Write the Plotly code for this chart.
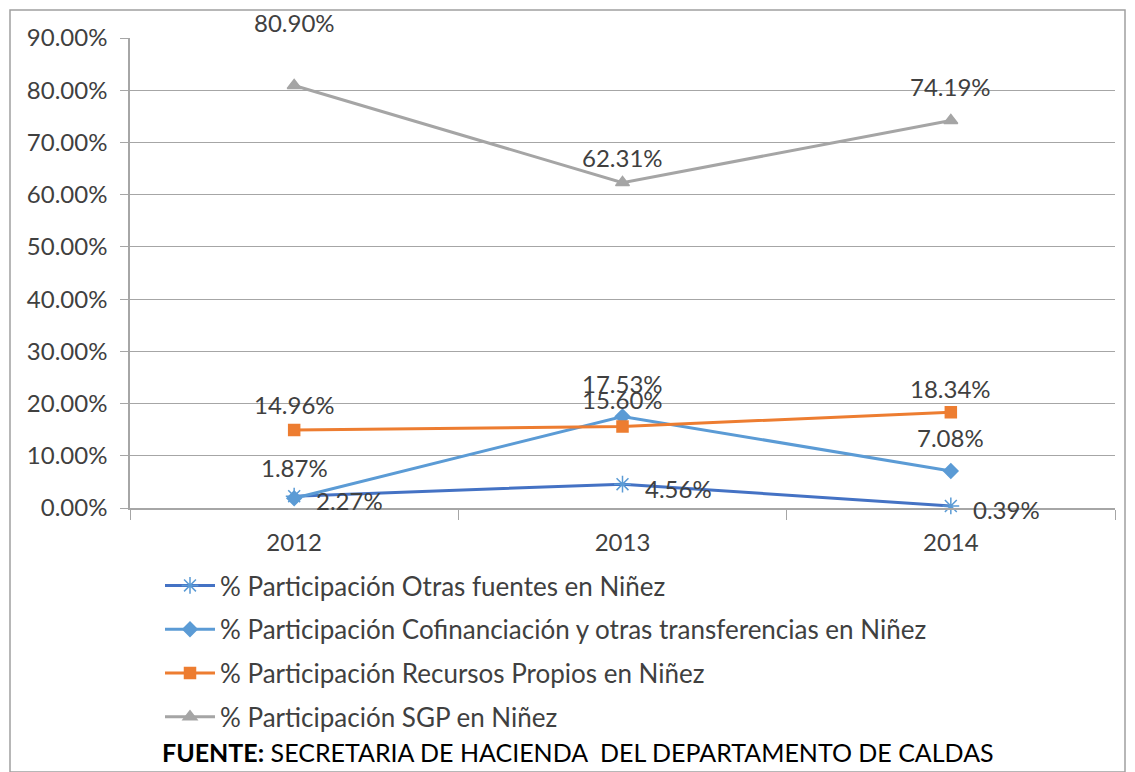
import plotly.graph_objects as go

# ── Data ──────────────────────────────────────────────────────────────────────
years = ["2012", "2013", "2014"]
otras = [2.27, 4.56, 0.39]
cofin = [1.87, 17.53, 7.08]
propios = [14.96, 15.60, 18.34]
sgp = [80.90, 62.31, 74.19]

names = [
    "% Participación Otras fuentes en Niñez",
    "% Participación Cofinanciación y otras transferencias en Niñez",
    "% Participación Recursos Propios en Niñez",
    "% Participación SGP en Niñez",
]

FONT = "Lato, 'Open Sans', sans-serif"
TXT = "#404040"
GRID = "#A6A6A6"

# line colour, marker colour, symbol, size, label placement
styles = [
    ("#4472C4", "#5B9BD5", "asterisk-open", 14, "right"),
    ("#5B9BD5", "#5B9BD5", "diamond", 11, "top"),
    ("#ED7D31", "#ED7D31", "square", 11, "top"),
    ("#A5A5A5", "#A5A5A5", "triangle-up", 12, "top"),
]
# vertical label offsets (px) as placed in the original
label_shift = [
    [-4, -4, -4],
    [31, 33, 34],
    [25, 27, 24],
    [63, 25, 34],
]

fig = go.Figure()
for i, vals in enumerate([otras, cofin, propios, sgp]):
    lc, mc, sym, sz, where = styles[i]
    fig.add_trace(go.Scatter(
        x=years, y=vals, name=names[i], legendgroup=f"g{i}",
        mode="lines+markers",
        line=dict(color=lc, width=3),
        marker=dict(symbol=sym, size=sz, color=mc, line=dict(color=mc, width=1.5)),
        cliponaxis=False,
    ))
    for j, v in enumerate(vals):
        fig.add_annotation(
            x=j, y=v, xref="x", yref="y", text=f"{v:.2f}%", showarrow=False,
            xanchor="left" if where == "right" else "center",
            yanchor="middle",
            xshift=20 if where == "right" else 0,
            yshift=label_shift[i][j],
            font=dict(size=24, color=TXT, family=FONT),
        )

# page is drawn with an 8px body margin; plot area on page: x 130..1115, y 38..508
OFF = 8
def px_x(p):
    return (p - 130) / 985

def px_y(p):
    return (508 - p) / 470

fig.add_shape(type="rect", xref="paper", yref="paper",
              x0=px_x(10), x1=px_x(1125), y0=px_y(772), y1=px_y(10),
              line=dict(color="#A0A0A0", width=1.5))

fig.add_annotation(
    text="<b>FUENTE:</b> SECRETARIA DE HACIENDA  DEL DEPARTAMENTO DE CALDAS",
    xref="paper", yref="paper", x=px_x(160), y=px_y(752),
    xanchor="left", yanchor="middle", showarrow=False,
    font=dict(size=25, color="#000000", family=FONT),
)

fig.update_layout(
    width=1135, height=772,
    paper_bgcolor="#FFFFFF", plot_bgcolor="#FFFFFF",
    font=dict(family=FONT, color=TXT, size=24),
    margin=dict(l=130 - OFF, r=1135 - 1115 + OFF, t=38 - OFF, b=772 - 508 + OFF),
    showlegend=True,
    legend=dict(x=px_x(160), y=px_y(562), xanchor="left", yanchor="top",
                font=dict(size=26, color=TXT, family=FONT),
                tracegroupgap=7, itemwidth=50, bgcolor="rgba(0,0,0,0)"),
)
fig.update_xaxes(type="category", range=[-0.5, 2.5], showgrid=False,
                 showline=True, linecolor=GRID, linewidth=1.5,
                 ticks="outside", tickson="boundaries", ticklen=10,
                 tickcolor=GRID, ticklabelstandoff=12,
                 tickfont=dict(size=24, color=TXT))
fig.update_yaxes(range=[0, 90], dtick=10, tickformat=".2f", ticksuffix="%",
                 showgrid=True, gridcolor=GRID, gridwidth=1.2,
                 showline=True, linecolor=GRID, linewidth=1.5,
                 ticks="outside", ticklen=8, tickcolor=GRID,
                 ticklabelstandoff=8,
                 zeroline=False, tickfont=dict(size=24, color=TXT))

fig.write_html("out.html")
